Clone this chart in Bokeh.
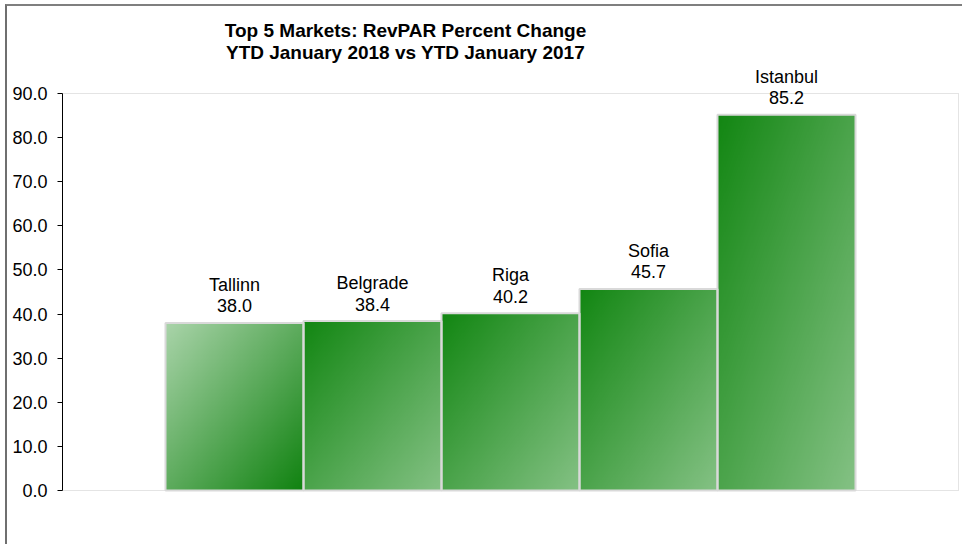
import numpy as np
from bokeh.plotting import figure
from bokeh.core.properties import value
from bokeh.models import (Range1d, FixedTicker, NumeralTickFormatter,
                          ColumnDataSource, LabelSet, Label)
from bokeh.embed import file_html
from bokeh.resources import INLINE

# ---- data ----
markets = ["Tallinn", "Belgrade", "Riga", "Sofia", "Istanbul"]
revpar_change = [38.0, 38.4, 40.2, 45.7, 85.2]
y_ticks = [0, 10, 20, 30, 40, 50, 60, 70, 80, 90]
title_line1 = "Top 5 Markets: RevPAR Percent Change"
title_line2 = "YTD January 2018 vs YTD January 2017"

FONT = "Liberation Sans"
idx = list(range(len(markets)))
Y_MAX = 90

# ---- layout (page pixels) ----
CANVAS_X0, CANVAS_Y0 = 7, 6        # canvas origin on the page (margin + 2px border)
W, H = 957, 540
AXIS_X = 62                        # y-axis position
Y0_PX, YTOP_PX = 490, 93           # pixel rows of 0 and 90
BAR0_PX, BAR_STEP = 234, 138       # centre of first bar, bar pitch

px_per_unit = (Y0_PX - YTOP_PX) / Y_MAX
x_start = -(BAR0_PX - AXIS_X) / BAR_STEP
x_end = x_start + (CANVAS_X0 + W - AXIS_X) / BAR_STEP
y_end = (Y0_PX - CANVAS_Y0) / px_per_unit
y_start = -(CANVAS_Y0 + H - Y0_PX) / px_per_unit
x_right_line = (958 - BAR0_PX) / BAR_STEP

# ---- gradient fills (top-left colour -> bottom-right colour) ----
DARK = (18, 134, 18)
LIGHT = (132, 193, 132)
T_LIGHT = (170, 212, 170)
T_DARK = (16, 130, 16)


def gradient(c0, c1, n=128):
    u = np.linspace(0, 1, n)[None, :]
    v = np.linspace(1, 0, n)[:, None]  # row 0 is bottom -> v = 1 (distance from top)
    t = (u + v) / 2.0
    img = np.empty((n, n), dtype=np.uint32)
    view = img.view(dtype=np.uint8).reshape((n, n, 4))
    for k in range(3):
        view[:, :, k] = np.round(c0[k] * (1 - t) + c1[k] * t).astype(np.uint8)
    view[:, :, 3] = 255
    return img


images = [gradient(T_LIGHT, T_DARK) if i == 0 else gradient(DARK, LIGHT) for i in idx]

p = figure(width=W, height=H, output_backend="svg", toolbar_location=None,
           x_range=Range1d(x_start, x_end), y_range=Range1d(y_start, y_end),
           x_axis_location=None,
           min_border_left=AXIS_X - CANVAS_X0, min_border_right=0,
           min_border_top=0, min_border_bottom=0)
p.styles = {"margin-left": "5px", "margin-top": "4px",
            "border-top": "2px solid #7f7f7f", "border-left": "2px solid #6f6f6f"}

p.xgrid.visible = False
p.ygrid.visible = False
p.outline_line_color = None
p.background_fill_color = "white"
p.border_fill_color = "white"

src = ColumnDataSource(dict(
    x=idx, top=revpar_change, name=markets,
    value=[f"{v:.1f}" for v in revpar_change],
    left=[i - 0.5 for i in idx], zero=[0] * len(idx), w=[1] * len(idx),
    img=images,
))

# plot-area outline (dotted light grey)
p.quad(left=[x_start], right=[x_right_line], bottom=[0], top=[Y_MAX],
       fill_alpha=0, line_color="#c8c8c8", line_dash="1 1", line_width=1)

p.image_rgba(image="img", x="left", y="zero", dw="w", dh="top", source=src)
p.vbar(x="x", top="top", width=1, source=src, fill_alpha=0,
       line_color="#d9d9d9", line_width=2)

# axis
ax = p.yaxis[0]
ax.bounds = (0, Y_MAX)
ax.ticker = FixedTicker(ticks=y_ticks, minor_ticks=[])
ax.formatter = NumeralTickFormatter(format="0.0")
ax.major_tick_in = 0
ax.major_tick_out = 5
ax.minor_tick_in = 0
ax.minor_tick_out = 0
ax.axis_line_color = "black"
ax.major_tick_line_color = "black"
ax.major_label_text_font = FONT
ax.major_label_text_font_size = "18px"
ax.major_label_text_color = "black"
ax.major_label_standoff = 10

# bar labels
names = LabelSet(x="x", y="top", text="name", source=src, text_align="center",
                 text_baseline="middle", y_offset=38, text_font=value(FONT),
                 text_font_size=value("18px"), text_color="black")
vals = LabelSet(x="x", y="top", text="value", source=src, text_align="center",
                text_baseline="middle", y_offset=17, text_font=value(FONT),
                text_font_size=value("18px"), text_color="black")
p.add_layout(names)
p.add_layout(vals)

# title (two centred lines)
title_x = x_start + (405 - AXIS_X) / BAR_STEP
for txt, py in ((title_line1, 30), (title_line2, 52)):
    p.add_layout(Label(x=title_x, y=(Y0_PX - py) / px_per_unit, text=txt,
                       text_align="center", text_baseline="alphabetic",
                       text_font=FONT, text_font_size="19px",
                       text_font_style="bold", text_color="black"))

open("out.html", "w").write(file_html(p, INLINE))
